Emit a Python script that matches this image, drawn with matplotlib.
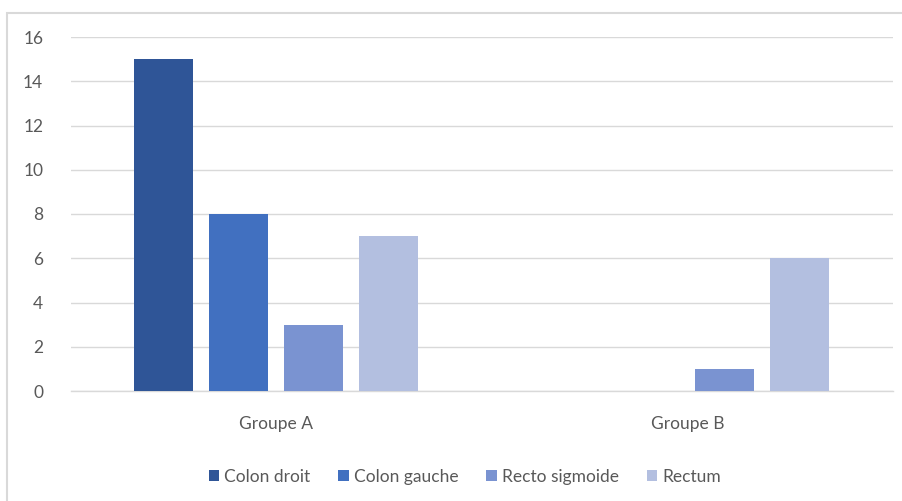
import numpy as np
import matplotlib
matplotlib.use('Agg')
import matplotlib.pyplot as plt
from matplotlib.patches import Rectangle

groups = ['Groupe A', 'Groupe B']
series = ['Colon droit', 'Colon gauche', 'Recto sigmoide', 'Rectum']
colon_droit = [15, 0]
colon_gauche = [8, 0]
recto_sigmoide = [3, 1]
rectum = [7, 6]
values = [colon_droit, colon_gauche, recto_sigmoide, rectum]
colors = ['#2F5597', '#4170C0', '#7A93D1', '#B3BFE0']

plt.rcParams['font.family'] = ['Lato', 'DejaVu Sans']
txt = '#595959'
grid = '#D9D9D9'

fig = plt.figure(figsize=(9.03, 5.01), dpi=100)
fig.patches.append(Rectangle((7 / 903, -0.1), 1.2, 1 - 13 / 501 + 0.1, transform=fig.transFigure,
                             fill=False, edgecolor=grid, linewidth=1.5))
ax = fig.add_axes([71 / 903, 1 - 391 / 501, (893 - 71) / 903, (391 - 37) / 501])

x = np.arange(len(groups))
step = 75 / 411
width = 59 / 411
for i, (name, vals, c) in enumerate(zip(series, values, colors)):
    ax.bar(x + (i - 1.5) * step, vals, width, color=c, label=name, zorder=3)

ax.set_xlim(-0.5, 1.5)
ax.set_ylim(0, 16)
ax.set_yticks(range(0, 17, 2))
ax.set_xticks(x)
ax.set_xticklabels(groups)
ax.yaxis.grid(True, color=grid, linewidth=1, zorder=0)
for s in ['top', 'right', 'left']:
    ax.spines[s].set_visible(False)
ax.spines['bottom'].set_color(grid)
ax.spines['bottom'].set_linewidth(1)
ax.tick_params(axis='both', length=0, colors=txt, labelsize=12.5)
ax.tick_params(axis='x', pad=18)
ax.tick_params(axis='y', pad=20)
for lab in ax.get_yticklabels():
    lab.set_horizontalalignment('right')

fig.legend(loc='center', bbox_to_anchor=(465 / 903, 1 - 477 / 501), ncol=4, frameon=False,
           fontsize=12.5, labelcolor=txt, handlelength=0.6, handleheight=0.6,
           handletextpad=0.3, columnspacing=1.6)

fig.savefig('out.png', dpi=100)
